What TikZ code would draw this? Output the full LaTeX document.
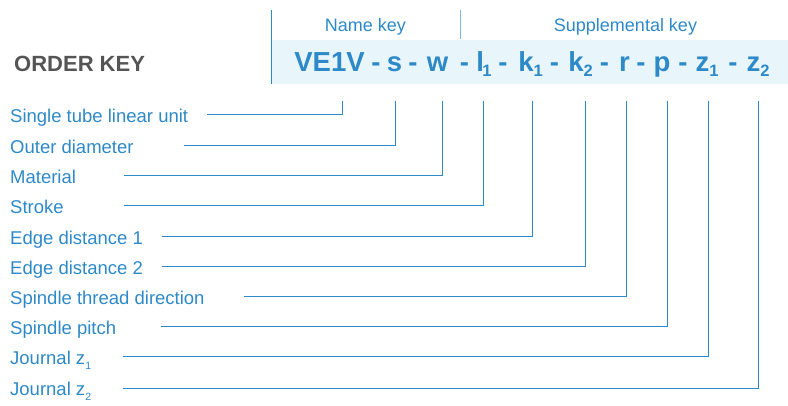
\documentclass[tikz,border=0pt]{standalone}
\usepackage{fontspec}
\setmainfont{Liberation Sans}
\definecolor{keyblue}{RGB}{45,137,199}
\definecolor{keyband}{RGB}{232,246,252}
\definecolor{keygrey}{RGB}{85,85,85}
\newcommand{\codesub}[1]{\raisebox{-5pt}{\fontsize{16.5}{16.5}\selectfont #1}}
\newcommand{\labelsub}[1]{\raisebox{-5.5pt}{\fontsize{10.5}{10.5}\selectfont #1}}
\tikzset{
  keyline/.style={draw=keyblue, line width=1pt},
  rowlabel/.style={anchor=base west, inner sep=0pt, text=keyblue, font=\fontsize{18.5}{22}\selectfont},
  codepart/.style={anchor=base, inner sep=0pt, text=keyblue, font=\fontsize{27.5}{30}\selectfont\bfseries},
  headlabel/.style={anchor=base, inner sep=0pt, text=keyblue, font=\fontsize{18}{22}\selectfont}
}

\begin{document}
\begin{tikzpicture}[x=1pt, y=-1pt]
    \useasboundingbox (0,0) rectangle (788,406);

    % Header band and key titles
    \fill[keyband] (271,40) rectangle (788,84);
    \draw[keyline, line width=0.9pt] (271,10) -- (271,84);
    \draw[keyline, line width=0.9pt, draw=keyblue!60] (460,10) -- (460,39);
    \node[headlabel] (namekey) at (365.5,32) {Name key};
    \node[headlabel] (suppkey) at (625.5,32) {Supplemental key};
    \node[anchor=base west, inner sep=0pt, text=keygrey, font=\fontsize{22}{26}\selectfont\bfseries] (orderkey) at (14,72) {ORDER KEY};

    % Order code, part by part
    \node[codepart] (ve) at (329.5,72) {VE1V};
    \node[codepart] (d1) at (376,72) {-};
    \node[codepart] (s)  at (394.5,72) {s};
    \node[codepart] (d2) at (413,72) {-};
    \node[codepart] (w)  at (437.5,72) {w};
    \node[codepart] (d3) at (464.5,72) {-};
    \node[codepart] (l1) at (484,72) {l\kern-1.5pt\codesub{1}};
    \node[codepart] (d4) at (503,72) {-};
    \node[codepart] (k1) at (530.5,72) {k\codesub{1}};
    \node[codepart] (d5) at (554.5,72) {-};
    \node[codepart] (k2) at (580.5,72) {k\codesub{2}};
    \node[codepart] (d6) at (604.5,72) {-};
    \node[codepart] (r)  at (624.5,72) {r};
    \node[codepart] (d7) at (641,72) {-};
    \node[codepart] (p)  at (662,72) {p};
    \node[codepart] (d8) at (683,72) {-};
    \node[codepart] (z1) at (707,72) {z\codesub{1}};
    \node[codepart] (d9) at (733,72) {-};
    \node[codepart] (z2) at (758,72) {z\codesub{2}};

    % Row labels
    \node[rowlabel] (unit)   at (10,122.5) {Single tube linear unit};
    \node[rowlabel] (outer)  at (10,153.5) {Outer diameter};
    \node[rowlabel] (mat)    at (10,183.5) {Material};
    \node[rowlabel] (stroke) at (10,213.5) {Stroke};
    \node[rowlabel] (edgeA)  at (10,244.5) {Edge distance 1};
    \node[rowlabel] (edgeB)  at (10,274.5) {Edge distance 2};
    \node[rowlabel] (thread) at (10,304.5) {Spindle thread direction};
    \node[rowlabel] (pitch)  at (10,334.5) {Spindle pitch};
    \node[rowlabel] (jA)     at (10,364.5) {Journal z\labelsub{1}};
    \node[rowlabel] (jB)     at (10,395.5) {Journal z\labelsub{2}};

    % Leader ends
    \coordinate (topline) at (0,101);
    \coordinate (eunit)   at (207,115);
    \coordinate (eouter)  at (184,146);
    \coordinate (emat)    at (124,176);
    \coordinate (estroke) at (124,206);
    \coordinate (eedgeA)  at (162,237);
    \coordinate (eedgeB)  at (162,267);
    \coordinate (ethread) at (244,297);
    \coordinate (epitch)  at (161,327);
    \coordinate (ejA)     at (123,357);
    \coordinate (ejB)     at (123,388);

    % Leaders from labels to code parts
    \draw[keyline] (eunit)   -| ([xshift=12.5pt]ve.base |- topline);
    \draw[keyline] (eouter)  -| ([xshift=0.5pt]s.base |- topline);
    \draw[keyline] (emat)    -| ([xshift=4.5pt]w.base |- topline);
    \draw[keyline] (estroke) -| ([xshift=-1pt]l1.base |- topline);
    \draw[keyline] (eedgeA)  -| ([xshift=1.5pt]k1.base |- topline);
    \draw[keyline] (eedgeB)  -| ([xshift=4.5pt]k2.base |- topline);
    \draw[keyline] (ethread) -| ([xshift=1.5pt]r.base |- topline);
    \draw[keyline] (epitch)  -| ([xshift=5pt]p.base |- topline);
    \draw[keyline] (ejA)     -| ([xshift=1.5pt]z1.base |- topline);
    \draw[keyline] (ejB)     -| (z2.base |- topline);

\end{tikzpicture}
\end{document}
